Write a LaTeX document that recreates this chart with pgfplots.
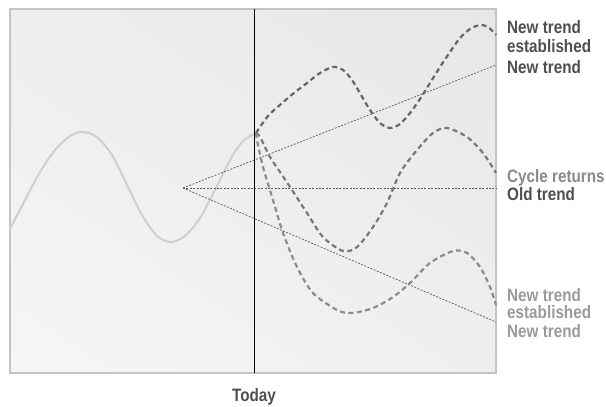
\documentclass[border=0pt]{standalone}
\usepackage{fontspec}
\setmainfont{Liberation Sans}[FakeStretch=0.85]
\usepackage{pgfplots}
\pgfplotsset{compat=1.18}
\usetikzlibrary{shadings}
\definecolor{frame}{HTML}{C4C4C4}
\definecolor{pastc}{HTML}{CFCFCF}
\definecolor{dkdash}{HTML}{666666}
\definecolor{mddash}{HTML}{787878}
\definecolor{ltdash}{HTML}{8C8C8C}
\definecolor{dotc}{HTML}{5A5A5A}
\definecolor{lbdark}{HTML}{4F4F4F}
\definecolor{lbmid}{HTML}{8A8A8A}
\definecolor{lblight}{HTML}{9A9A9A}
\definecolor{bgul}{HTML}{EEEEEE}
\definecolor{bgur}{HTML}{E7E7E7}
\definecolor{bgll}{HTML}{F6F6F6}
\definecolor{bglr}{HTML}{EFEFEF}
\tikzset{
    dashline/.style={smooth, line width=2.2bp, dash pattern=on 5bp off 3.5bp},
    dotline/.style={dotc, line width=0.7bp, dash pattern=on 2bp off 1.4bp},
    lab/.style={anchor=base west, font=\bfseries\fontsize{18}{20}\selectfont, inner sep=0pt},
}
\begin{document}
\begin{tikzpicture}[x=1bp,y=1bp]
\begin{axis}[
    at={(10bp,33bp)}, anchor=south west,
    width=486bp, height=364bp, scale only axis,
    xmin=10, xmax=496, ymin=9, ymax=373,
    y dir=reverse,
    xtick=\empty, ytick=\empty,
    axis line style={draw=frame, line width=2bp},
    axis background/.style={upper left=bgul, upper right=bgur, lower left=bgll, lower right=bglr},
    clip=false,
]
% past cycle
\addplot[pastc, line width=2bp, smooth] coordinates {
    (10,229) (25,200) (40,172) (55,150) (70,136) (83,132) (97,137) (112,155)
    (127,185) (142,215) (157,236) (171,242) (185,236) (200,218) (215,190)
    (230,160) (243,141) (256,133)
};
% trends
\addplot[dotline] coordinates {(183,188) (496,65)};
\addplot[dotline] coordinates {(183,188) (496,188)};
\addplot[dotline] coordinates {(183,188) (496,322)};
% today
\addplot[black, line width=1bp] coordinates {(254,9) (254,373)};
% scenarios
\addplot[dkdash, dashline] coordinates {
    (256,133) (268,116) (281,104) (294,93) (307,83) (320,73) (333,67) (343,70)
    (352,80) (361,95) (370,110) (380,123) (390,128) (400,124) (410,113)
    (420,99) (430,83) (440,67) (450,52) (460,38) (470,29) (480,25) (488,27)
    (496,35)
};
\addplot[mddash, dashline] coordinates {
    (256,133) (260,137) (270,157) (280,172) (290,187) (307,213) (323,237)
    (343,251) (357,247) (373,227) (387,203) (400,173) (417,150) (433,133)
    (447,128) (467,137) (483,153) (496,173)
};
\addplot[ltdash, dashline] coordinates {
    (256,133) (257,140) (263,167) (273,200) (283,233) (297,267) (313,293)
    (337,310) (352,313) (373,308) (393,297) (410,283) (430,263) (453,251)
    (467,253) (480,267) (490,287) (496,305)
};
% labels
\node[lab, lbdark] at (axis cs:507,34) {New trend};
\node[lab, lbdark] at (axis cs:507,52) {established};
\node[lab, lbdark] at (axis cs:507,73) {New trend};
\node[lab, lbmid] at (axis cs:507,182) {Cycle returns};
\node[lab, lbdark] at (axis cs:507,200) {Old trend};
\node[lab, lblight] at (axis cs:507,301) {New trend};
\node[lab, lblight] at (axis cs:507,318) {established};
\node[lab, lblight] at (axis cs:507,337) {New trend};
\node[anchor=base, font=\bfseries\fontsize{18}{20}\selectfont, inner sep=0pt, lbdark]
    at (axis cs:254,401) {Today};
\end{axis}
\path (0,0) rectangle (606,406);
\end{tikzpicture}
\end{document}
